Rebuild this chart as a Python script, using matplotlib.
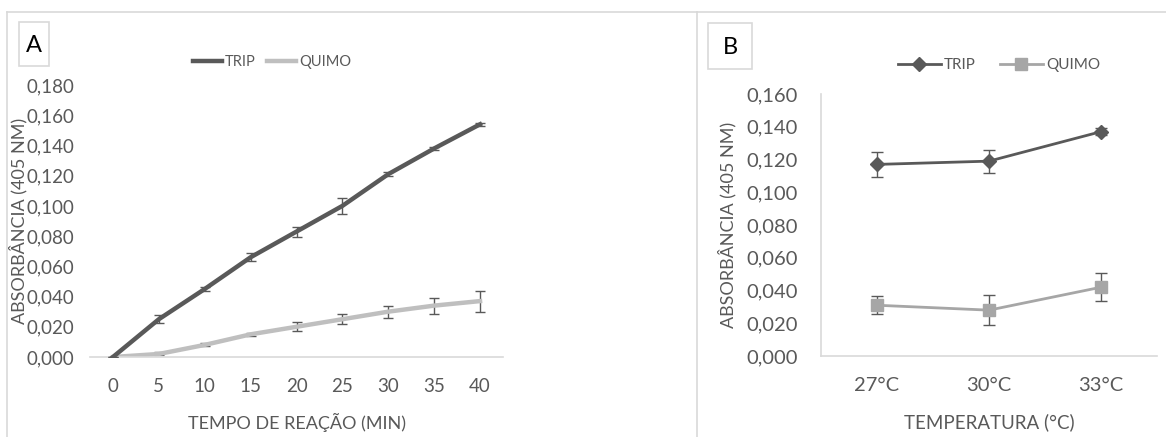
import matplotlib
matplotlib.use("Agg")
import matplotlib.pyplot as plt
from matplotlib.patches import Rectangle
from matplotlib.lines import Line2D

plt.rcParams['font.family'] = ['Lato', 'DejaVu Sans']

# ---- Data: panel A ----
tempo = [0, 5, 10, 15, 20, 25, 30, 35, 40]
trip_a = [0.000, 0.025, 0.045, 0.066, 0.083, 0.100, 0.121, 0.138, 0.154]
trip_a_err = [0.000, 0.0025, 0.0015, 0.0025, 0.0033, 0.0055, 0.0015, 0.0012, 0.0010]
quimo_a = [0.000, 0.002, 0.008, 0.015, 0.020, 0.025, 0.030, 0.034, 0.037]
quimo_a_err = [0.000, 0.0010, 0.0010, 0.0008, 0.0030, 0.0033, 0.0040, 0.0053, 0.0070]
yticks_a = [0.000, 0.020, 0.040, 0.060, 0.080, 0.100, 0.120, 0.140, 0.160, 0.180]

# ---- Data: panel B ----
temperaturas = ['27°C', '30°C', '33°C']
trip_b = [0.117, 0.119, 0.137]
trip_b_err = [0.0076, 0.0070, 0.0020]
quimo_b = [0.031, 0.028, 0.042]
quimo_b_err = [0.0054, 0.0090, 0.0087]
yticks_b = [0.000, 0.020, 0.040, 0.060, 0.080, 0.100, 0.120, 0.140, 0.160]

W, H = 1166, 437
fig = plt.figure(figsize=(W / 100, H / 100), dpi=100)

def fx(px):
    return px / W

def fy(py):
    return 1 - py / H

txt = '#595959'
dark = '#595959'
light = '#bfbfbf'
lightb = '#a6a6a6'
grid = '#d9d9d9'

def fmt(v):
    return f"{v:.3f}".replace('.', ',')

# ---- Panel frames ----
for (x0, x1) in [(7, 697), (697, 1166)]:
    fig.add_artist(Line2D([fx(x0), fx(x1)], [fy(12), fy(12)], color=grid, lw=1.2, transform=fig.transFigure))
    fig.add_artist(Line2D([fx(x0), fx(x0)], [fy(12), fy(437)], color=grid, lw=1.2, transform=fig.transFigure))

# ---- Panel A ----
axA = fig.add_axes([fx(90), fy(357), fx(503) - fx(90), fy(85) - fy(357)])
xa = list(range(len(tempo)))
axA.errorbar(xa, trip_a, yerr=trip_a_err, color=dark, lw=3.2, ecolor=dark,
             elinewidth=1.0, capsize=3.5, capthick=1.0, zorder=3)
axA.errorbar(xa, quimo_a, yerr=quimo_a_err, color=light, lw=3.2, ecolor=dark,
             elinewidth=1.0, capsize=3.5, capthick=1.0, zorder=2)
axA.set_xlim(-0.5, len(tempo) - 0.5)
axA.set_ylim(0, 0.18)
axA.set_xticks(xa)
axA.set_xticklabels([str(t) for t in tempo])
axA.set_yticks(yticks_a)
axA.set_yticklabels([fmt(v) for v in yticks_a])
for s in ['top', 'right', 'left']:
    axA.spines[s].set_visible(False)
axA.spines['bottom'].set_color(grid)
axA.spines['bottom'].set_linewidth(1.2)
axA.tick_params(length=0, colors=txt, labelsize=13.5)
axA.tick_params(axis='x', pad=15)
axA.tick_params(axis='y', pad=11)
axA.set_xlabel('TEMPO DE REAÇÃO (MIN)', color=txt, fontsize=13)
axA.xaxis.set_label_coords(0.5, (357 - 422) / (357 - 85), transform=axA.transAxes)
axA.xaxis.label.set_va('center')
axA.set_ylabel('ABSORBÂNCIA (405 NM)', color=txt, fontsize=13)
axA.yaxis.set_label_coords((18 - 90) / (503 - 90), 0.5)
axA.yaxis.label.set_va('center')
hA = [Line2D([], [], color=dark, lw=3.2), Line2D([], [], color=light, lw=3.2)]
axA.legend(hA, ['TRIP', 'QUIMO'], loc='center', bbox_to_anchor=(fx(272), fy(62)),
           bbox_transform=fig.transFigure, ncol=2, frameon=False, fontsize=10.5,
           handlelength=2.0, handletextpad=0.2, columnspacing=0.8, labelcolor=txt)

fig.add_artist(Rectangle((fx(19), fy(66)), fx(49) - fx(19), fy(22) - fy(66),
                         transform=fig.transFigure, fill=False, edgecolor=grid, lw=1.2))
fig.text(fx(34), fy(46), 'A', ha='center', va='center', fontsize=17, color='#000000')

# ---- Panel B ----
axB = fig.add_axes([fx(821), fy(356), fx(1157) - fx(821), fy(94) - fy(356)])
xb = list(range(len(temperaturas)))
axB.errorbar(xb, trip_b, yerr=trip_b_err, color=dark, lw=2.0, marker='D', markersize=7,
             ecolor=dark, elinewidth=1.0, capsize=4, capthick=1.0, zorder=3)
axB.errorbar(xb, quimo_b, yerr=quimo_b_err, color=lightb, lw=2.0, marker='s', markersize=8,
             ecolor=dark, elinewidth=1.0, capsize=4, capthick=1.0, zorder=2)
axB.set_xlim(-0.5, len(temperaturas) - 0.5)
axB.set_ylim(0, 0.16)
axB.set_xticks(xb)
axB.set_xticklabels(temperaturas)
axB.set_yticks(yticks_b)
axB.set_yticklabels([fmt(v) for v in yticks_b])
for s in ['top', 'right']:
    axB.spines[s].set_visible(False)
for s in ['left', 'bottom']:
    axB.spines[s].set_color(grid)
    axB.spines[s].set_linewidth(1.2)
axB.tick_params(length=0, colors=txt, labelsize=14.5)
axB.tick_params(axis='x', pad=15)
axB.tick_params(axis='y', pad=17)
axB.set_xlabel('TEMPERATURA (°C)', color=txt, fontsize=13.5)
axB.xaxis.set_label_coords(0.5, (356 - 422) / (356 - 94), transform=axB.transAxes)
axB.xaxis.label.set_va('center')
axB.set_ylabel('ABSORBÂNCIA (405 NM)', color=txt, fontsize=13)
axB.yaxis.set_label_coords((727 - 821) / (1157 - 821), 0.5)
axB.yaxis.label.set_va('center')
hB = [Line2D([], [], color=dark, lw=2.0, marker='D', markersize=7),
      Line2D([], [], color=lightb, lw=2.0, marker='s', markersize=8)]
axB.legend(hB, ['TRIP', 'QUIMO'], loc='center', bbox_to_anchor=(fx(999), fy(65)),
           bbox_transform=fig.transFigure, ncol=2, frameon=False, fontsize=11,
           handlelength=2.8, handletextpad=0.2, columnspacing=1.6, labelcolor=txt)

fig.add_artist(Rectangle((fx(708), fy(69)), fx(752) - fx(708), fy(23) - fy(69),
                         transform=fig.transFigure, fill=False, edgecolor=grid, lw=1.2))
fig.text(fx(730), fy(47), 'B', ha='center', va='center', fontsize=17, color='#000000')

fig.savefig('out.png', dpi=100)
